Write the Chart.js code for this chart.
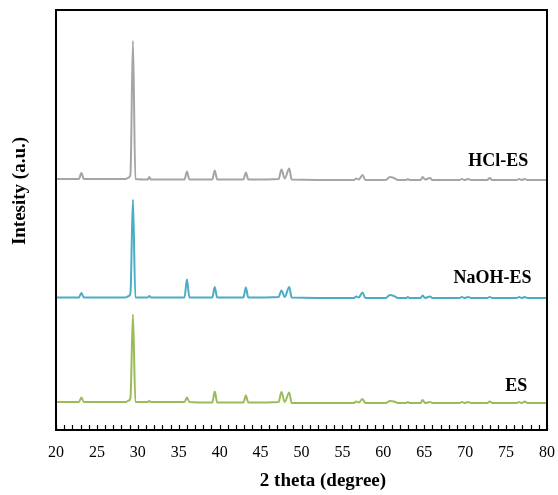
<!DOCTYPE html>
<html>
<head>
<meta charset="utf-8">
<script src="https://cdn.jsdelivr.net/npm/chart.js@4.4.0/dist/chart.umd.min.js"></script>
<style>
  html, body { margin: 0; padding: 0; background: #fff; }
  #wrap { width: 558px; height: 495px; }
</style>
</head>
<body>
<div id="wrap"><canvas id="xrdChart" width="558" height="495"></canvas></div>
<script>
  const twoTheta = [
    20, 22.8, 23.1, 23.4, 28.5, 28.9, 29.1, 29.4, 29.7,
    31.2, 31.4, 31.6, 35.7, 36.0, 36.3, 39.1, 39.4, 39.7,
    42.9, 43.2, 43.5, 47.2, 47.55, 47.95, 48.5, 48.8,
    56.4, 56.7, 57.0, 57.45, 57.8, 60.3, 60.8, 61.3, 61.8,
    62.8, 63.0, 63.2, 64.55, 64.8, 65.1, 65.7, 66.0,
    69.3, 69.6, 69.9, 70.4, 70.7, 72.7, 73.0, 73.3,
    76.3, 76.6, 76.9, 77.3, 77.6, 80,
  ];

  const hclEs = [
    251, 251, 257, 251, 251, 252.5, 256, 389, 251,
    250.5, 253, 250.5, 250.5, 258.5, 250.5, 250.5, 259.5, 250.5,
    250.5, 257.5, 250.5, 251, 260.5, 251.5, 261.5, 250.5,
    250, 251.5, 250.5, 255, 250, 250, 253, 252, 250,
    250, 251, 250, 250, 253, 250.5, 252, 250,
    250, 251, 250, 251, 250, 250, 252, 250,
    250, 251, 250, 251, 250, 250,
  ];

  const naohEs = [
    132.5, 132.5, 137, 132.5, 132.5, 134, 137, 230.5, 132.5,
    132.5, 134, 132.5, 132.5, 150.5, 132.5, 132.5, 143, 132.5,
    132.5, 142.5, 132.5, 133, 139.5, 133, 143, 132.5,
    132, 133.5, 132.5, 137.5, 132, 132, 135, 134, 132,
    132, 133, 132, 132, 134.5, 132, 133.5, 132,
    132, 133, 132, 133, 132, 132, 133, 132,
    132, 133, 132, 133, 132, 132,
  ];

  const es = [
    28, 28, 32.5, 28, 28, 29.5, 32, 115.5, 28,
    28, 29, 28, 28, 32.5, 28, 27.5, 38.5, 27.5,
    27.5, 34.5, 27.5, 28, 38, 28, 37.5, 27,
    27, 28.5, 27.5, 31, 27, 27, 29, 28.5, 27,
    27, 28, 27, 27, 30, 27, 28, 27,
    27, 28, 27, 28, 27, 27, 28.5, 27,
    27, 28, 27, 28.5, 27, 27,
  ];

  const seriesNames = ["HCl-ES", "NaOH-ES", "ES"];
  const xTickLabels = [20, 25, 30, 35, 40, 45, 50, 55, 60, 65, 70, 75, 80];

  const serif = "'Liberation Serif', 'Times New Roman', serif";

  // inner ticks, box frame, titles and sample labels
  const framePlugin = {
    id: "frame",
    afterDraw(chart) {
      const { ctx, chartArea: a, scales: { x, y } } = chart;
      ctx.save();
      ctx.strokeStyle = "#000";
      ctx.lineWidth = 1.2;
      x.ticks.forEach((t) => {
        const px = Math.round(x.getPixelForValue(t.value)) + 0.5;
        ctx.beginPath();
        ctx.moveTo(px, a.bottom);
        ctx.lineTo(px, a.bottom - 5);
        ctx.stroke();
      });
      ctx.lineWidth = 2;
      ctx.strokeRect(a.left, a.top, a.right - a.left, a.bottom - a.top);

      ctx.fillStyle = "#000";
      ctx.font = "bold 18px " + serif;
      ctx.textAlign = "right";
      ctx.textBaseline = "middle";
      const labelPos = [[77.7, 269], [78.1, 152], [77.6, 44]];
      seriesNames.forEach((name, i) => {
        ctx.fillText(name, x.getPixelForValue(labelPos[i][0]), y.getPixelForValue(labelPos[i][1]));
      });

      ctx.font = "bold 19px " + serif;
      ctx.textAlign = "center";
      ctx.fillText("2 theta (degree)", 323, 481);
      ctx.translate(20, 191);
      ctx.rotate(-Math.PI / 2);
      ctx.fillText("Intesity (a.u.)", 0, 0);
      ctx.restore();
    },
  };

  function makeSet(values, color) {
    return {
      data: twoTheta.map((t, i) => ({ x: t, y: values[i] })),
      borderColor: color,
      borderWidth: 2,
      pointRadius: 0,
      cubicInterpolationMode: "monotone",
      fill: false,
    };
  }

  const config = {
    type: "line",
    data: {
      datasets: [
        makeSet(hclEs, "#a5a5a5"),
        makeSet(naohEs, "#4bacc6"),
        makeSet(es, "#9bbb59"),
      ],
    },
    options: {
      responsive: false,
      animation: false,
      layout: { padding: { top: 10, right: 0, left: 0, bottom: 0 } },
      scales: {
        x: {
          type: "linear",
          min: 20,
          max: 80,
          afterFit: (s) => { s.height = 65; s.paddingRight = 11; },
          grid: { display: false },
          border: { display: false },
          ticks: {
            stepSize: 1,
            autoSkip: false,
            maxRotation: 0,
            padding: 5,
            color: "#000",
            font: { family: serif, size: 16 },
            callback: (v) => (xTickLabels.includes(v) ? String(v) : ""),
          },
        },
        y: {
          min: 0,
          max: 420,
          afterFit: (s) => { s.width = 56; },
          grid: { display: false },
          border: { display: false },
          ticks: { display: false },
        },
      },
      plugins: {
        legend: { display: false },
        tooltip: { enabled: false },
      },
    },
    plugins: [framePlugin],
  };

  new Chart(document.getElementById("xrdChart"), config);
</script>
</body>
</html>
